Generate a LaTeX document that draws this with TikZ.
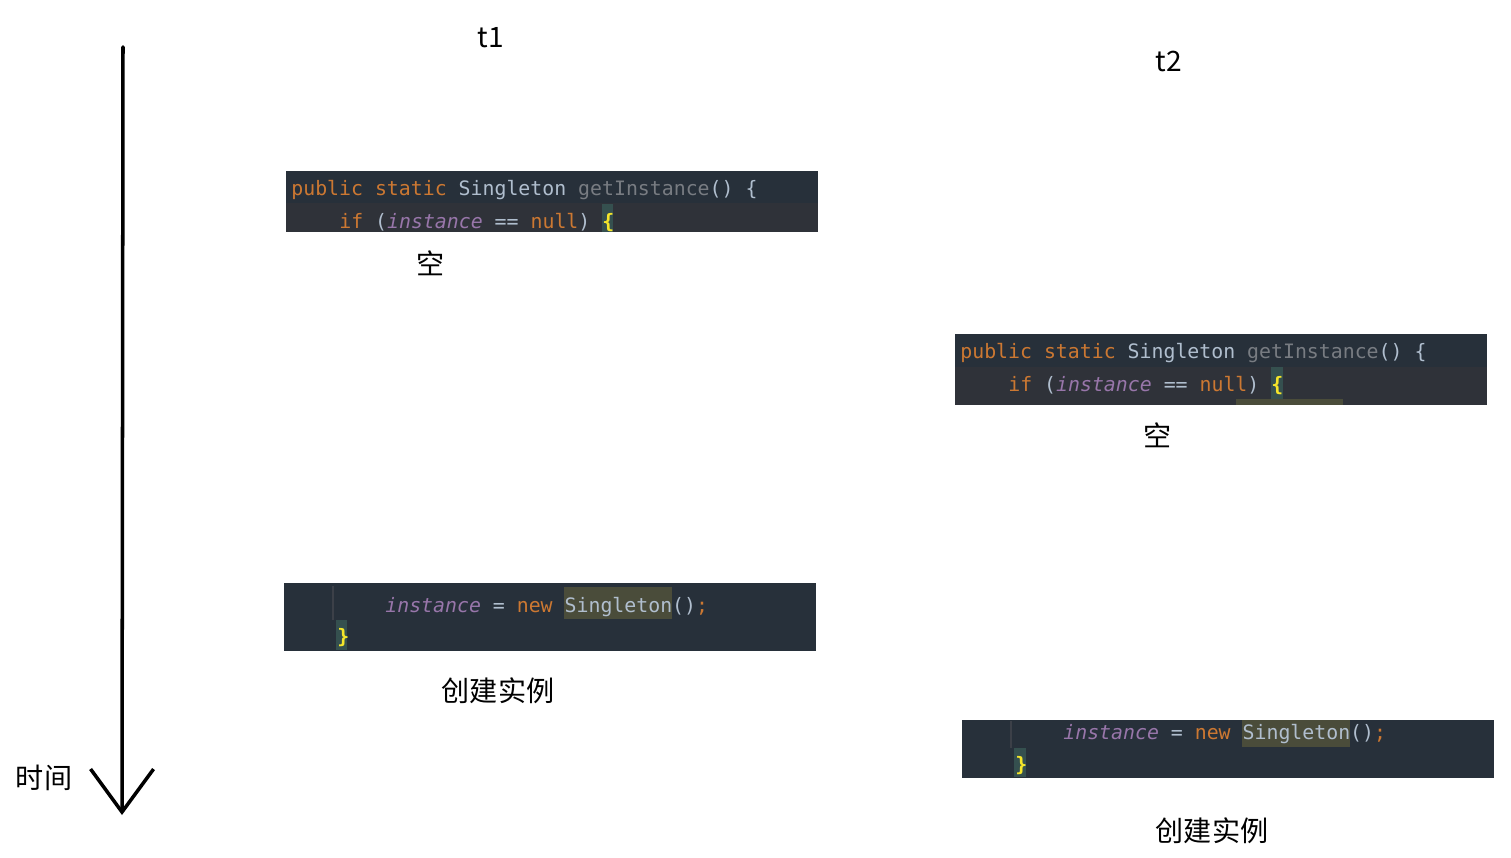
\documentclass[tikz,border=0pt]{standalone}
\usepackage{fontspec}
\usepackage{xcolor}
\usetikzlibrary{arrows.meta}

\newfontfamily\cnfont{Noto Sans CJK SC}
\newfontfamily\codefont{DejaVu Sans Mono}

\definecolor{rowdark}{HTML}{27303A}
\definecolor{rowcaret}{HTML}{2F3239}
\definecolor{kwcol}{HTML}{CC7832}
\definecolor{clscol}{HTML}{B0BECE}
\definecolor{unusedcol}{HTML}{787C82}
\definecolor{fieldcol}{HTML}{9876AA}
\definecolor{bracecol}{HTML}{F5E52A}
\definecolor{olivebg}{HTML}{4A4C3A}
\definecolor{tealbg}{HTML}{35504F}
\definecolor{guidecol}{HTML}{3C4048}

\newcommand{\kw}[1]{\textcolor{kwcol}{#1}}
\newcommand{\cls}[1]{\textcolor{clscol}{#1}}
\newcommand{\unused}[1]{\textcolor{unusedcol}{#1}}
\newcommand{\fld}[1]{\textcolor{fieldcol}{\itshape #1}}
\newcommand{\pn}[1]{\textcolor{clscol}{#1}}
\newcommand{\brc}[1]{\textcolor{bracecol}{\bfseries #1}}

\tikzset{
  code/.style={anchor=mid west, inner sep=0pt, yshift=-0.8mm, font=\codefont\fontsize{11.3}{13}\selectfont},
  cjktext/.style={inner sep=0pt, font=\cnfont\fontsize{16}{18}\selectfont},
}

\begin{document}
\begin{tikzpicture}[x=0.02cm, y=-0.02cm]

\useasboundingbox (0,0) rectangle (1511,858);

% time axis
\coordinate (top) at (123,47);
\coordinate (bottom) at (122,815);
\draw[line width=2pt, line cap=round, -{Straight Barb[length=8.6mm, width=12.6mm, line width=2pt]}] (top) -- (bottom);
\node[cjktext] (time) at (44,778) {时间};

% thread labels
\node[cjktext] (t1) at (491,38) {t1};
\node[cjktext] (t2) at (1169,61) {t2};

% Check (t1)
\fill[rowdark] (286,171) rectangle (818,203);
\fill[rowcaret] (286,203) rectangle (818,232);
\fill[tealbg] (602,204) rectangle (613,232);
\node[code] (checkA1) at (291,188) {\kw{public static} \cls{Singleton} \unused{getInstance}\pn{() \{}};
\node[code] (checkA2) at (339,221) {\kw{if} \pn{(}\fld{instance} \pn{==} \kw{null}\pn{)} \brc{\{}};
\node[cjktext] (emptyA) at (431,263) {空};

% Create (t1)
\fill[rowdark] (284,583) rectangle (816,651);
\fill[olivebg] (564,587) rectangle (672,619);
\fill[tealbg] (336,620) rectangle (347,650);
\draw[guidecol, line width=0.6pt] (333,586) -- (333,620);
\node[code] (createA1) at (385,605) {\fld{instance} \pn{=} \kw{new} \cls{Singleton}\pn{()}\kw{;}};
\node[code] (createA2) at (337,636) {\brc{\}}};
\node[cjktext] (madeA) at (498,691) {创建实例};

% Check (t2)
\fill[rowdark] (955,334) rectangle (1487,367);
\fill[rowcaret] (955,367) rectangle (1487,405);
\fill[tealbg] (1271,367) rectangle (1283,405);
\fill[olivebg] (1236,399) rectangle (1343,405);
\node[code] (checkB1) at (960,351) {\kw{public static} \cls{Singleton} \unused{getInstance}\pn{() \{}};
\node[code] (checkB2) at (1008,384) {\kw{if} \pn{(}\fld{instance} \pn{==} \kw{null}\pn{)} \brc{\{}};
\node[cjktext] (emptyB) at (1158,435) {空};

% Create (t2)
\fill[rowdark] (962,720) rectangle (1494,778);
\fill[olivebg] (1242,720) rectangle (1350,747);
\fill[tealbg] (1014,748) rectangle (1026,777);
\draw[guidecol, line width=0.6pt] (1011,721) -- (1011,748);
\node[code] (createB1) at (1063,732) {\fld{instance} \pn{=} \kw{new} \cls{Singleton}\pn{()}\kw{;}};
\node[code] (createB2) at (1015,764) {\brc{\}}};
\node[cjktext] (madeB) at (1212,831) {创建实例};

\end{tikzpicture}
\end{document}
